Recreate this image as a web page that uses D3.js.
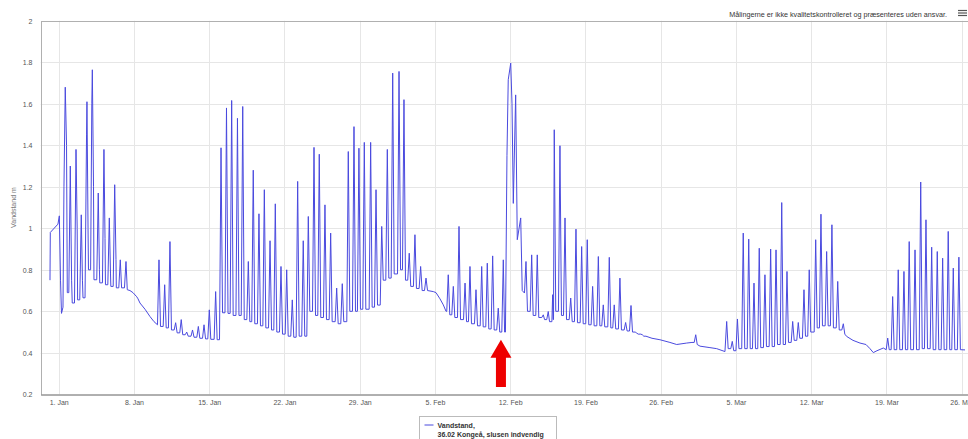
<!DOCTYPE html>
<html><head><meta charset="utf-8">
<script src="https://cdn.jsdelivr.net/npm/d3@7"></script>
<style>
html,body{margin:0;padding:0;background:#fff;overflow:hidden;}
svg{display:block;font-family:"Liberation Sans",Arial,sans-serif;}
</style></head>
<body><svg id="chart" width="968" height="439"></svg>
<script>
// ---- data: [days since 1 Jan 00:00, water level (m)] ----
const readings = [
[-0.81,0.75],[-0.78,0.98],[-0.07,1.02],[0.06,1.06],[0.17,0.75],[0.26,0.59],[0.40,0.62],[0.49,1.2],[0.61,1.68],[0.73,1.40],[0.80,0.69],[0.94,0.69],
[1.08,1.30],[1.20,0.75],[1.26,0.64],[1.47,0.64],[1.61,1.38],[1.72,1.0],[1.76,0.655],[1.96,0.655],[2.10,1.065],[2.21,0.75],[2.26,0.665],[2.45,0.665],
[2.59,1.45],[2.63,1.61],[2.73,1.0],[2.77,0.80],[2.97,0.80],[3.08,1.6],[3.13,1.764],[3.24,1.2],[3.28,0.752],[3.54,0.752],[3.68,1.17],[3.79,0.8],
[3.82,0.737],[4.07,0.737],[4.21,1.38],[4.31,0.95],[4.35,0.728],[4.57,0.728],[4.71,1.05],[4.82,0.78],[4.85,0.72],[5.07,0.72],[5.21,1.21],[5.33,0.85],
[5.36,0.713],[5.59,0.713],[5.73,0.848],[5.85,0.713],[6.12,0.713],[6.26,0.84],[6.38,0.704],[6.63,0.70],[6.91,0.69],[7.26,0.67],[7.38,0.66],[7.56,0.64],
[8.03,0.61],[8.49,0.575],[8.87,0.55],[9.19,0.535],[9.33,0.848],[9.47,0.527],[9.72,0.527],[9.86,0.728],[10.00,0.52],[10.21,0.52],[10.35,0.936],[10.49,0.51],
[10.74,0.51],[10.88,0.545],[11.02,0.496],[11.26,0.496],[11.40,0.56],[11.54,0.487],[11.77,0.487],[11.91,0.50],[12.05,0.48],[12.31,0.48],[12.45,0.51],[12.59,0.475],
[12.85,0.475],[12.99,0.527],[13.13,0.47],[13.38,0.47],[13.52,0.535],[13.66,0.467],[13.87,0.467],[14.01,0.607],[14.15,0.465],[14.46,0.465],[14.60,0.695],[14.74,0.463],
[14.96,0.463],[15.10,1.388],[15.24,0.593],[15.47,0.593],[15.61,1.58],[15.75,0.59],[15.95,0.59],[16.09,1.616],[16.23,0.58],[16.49,0.58],[16.63,1.53],[16.77,0.58],
[16.98,0.58],[17.12,1.587],[17.26,0.56],[17.50,0.56],[17.64,0.84],[17.78,0.55],[17.96,0.55],[18.10,1.28],[18.24,0.54],[18.49,0.54],[18.63,1.07],[18.77,0.53],
[18.99,0.53],[19.13,1.186],[19.27,0.52],[19.52,0.52],[19.66,0.94],[19.80,0.51],[20.01,0.51],[20.15,1.118],[20.29,0.50],[20.54,0.50],[20.68,0.816],[20.82,0.49],
[21.07,0.49],[21.21,0.80],[21.35,0.48],[21.59,0.48],[21.73,0.655],[21.87,0.475],[22.09,0.475],[22.23,1.226],[22.37,0.48],[22.61,0.48],[22.75,0.94],[22.89,0.48],
[23.08,0.48],[23.22,1.057],[23.36,0.60],[23.61,0.60],[23.75,1.39],[23.89,0.58],[24.10,0.58],[24.24,1.357],[24.38,0.57],[24.63,0.57],[24.77,1.113],[24.91,0.56],
[25.16,0.56],[25.30,0.977],[25.44,0.55],[25.72,0.55],[25.86,0.712],[26.00,0.54],[26.24,0.54],[26.38,0.733],[26.52,0.55],[26.80,0.55],[26.94,1.37],[27.08,0.60],
[27.33,0.60],[27.47,1.49],[27.61,0.60],[27.79,0.60],[27.93,1.386],[28.07,0.61],[28.29,0.61],[28.43,1.414],[28.57,0.61],[28.88,0.61],[29.02,1.414],[29.16,0.62],
[29.38,0.62],[29.52,1.186],[29.66,0.63],[29.91,0.63],[30.05,1.009],[30.19,0.75],[30.43,0.75],[30.57,1.38],[30.71,0.76],[30.93,0.76],[31.07,1.748],[31.21,0.78],
[31.52,0.78],[31.66,1.756],[31.80,0.80],[31.98,0.80],[32.12,1.62],[32.26,0.75],[32.47,0.75],[32.61,0.88],[32.75,0.72],[33.00,0.72],[33.14,0.969],[33.28,0.71],
[33.53,0.71],[33.67,0.816],[33.81,0.70],[34.03,0.70],[34.17,0.76],[34.31,0.70],[34.85,0.695],[35.10,0.69],[35.47,0.66],[35.78,0.631],[36.03,0.60],[36.10,0.60],
[36.24,0.776],[36.38,0.583],[36.57,0.583],[36.71,0.72],[36.85,0.57],[37.10,0.57],[37.24,1.009],[37.38,0.56],[37.66,0.56],[37.80,0.736],[37.94,0.55],[38.12,0.55],
[38.26,0.816],[38.40,0.54],[38.68,0.54],[38.82,0.704],[38.96,0.53],[39.21,0.53],[39.35,0.816],[39.49,0.525],[39.73,0.525],[39.87,0.832],[40.01,0.515],[40.23,0.515],
[40.37,0.867],[40.51,0.51],[40.75,0.51],[40.89,0.615],[41.03,0.50],[41.22,0.50],[41.36,0.848],[41.48,0.50],[41.56,0.50],[41.70,1.35],[41.82,1.716],[42.05,1.796],
[42.17,1.6],[42.29,1.12],[42.51,1.643],[42.66,0.945],[42.98,1.05],[43.12,0.70],[43.33,0.688],[43.47,0.84],[43.61,0.60],[43.86,0.60],[44.00,0.872],[44.14,0.58],
[44.38,0.58],[44.52,0.872],[44.66,0.57],[44.94,0.57],[45.08,0.583],[45.20,0.56],[45.40,0.56],[45.54,0.599],[45.66,0.55],[45.88,0.55],[45.95,0.68],[46.00,0.56],
[46.03,0.56],[46.10,1.475],[46.24,0.60],[46.49,0.60],[46.63,1.398],[46.77,0.58],[46.96,0.58],[47.10,1.05],[47.24,0.56],[47.49,0.56],[47.63,0.664],[47.77,0.55],
[47.98,0.55],[48.12,0.996],[48.26,0.545],[48.51,0.545],[48.65,0.912],[48.79,0.54],[49.03,0.54],[49.17,0.945],[49.31,0.535],[49.53,0.535],[49.67,0.72],[49.81,0.53],
[50.06,0.53],[50.20,0.864],[50.34,0.53],[50.52,0.53],[50.66,0.631],[50.80,0.525],[51.08,0.525],[51.22,0.86],[51.36,0.52],[51.54,0.52],[51.68,0.631],[51.82,0.515],
[52.07,0.515],[52.21,0.76],[52.35,0.51],[52.60,0.51],[52.74,0.546],[52.88,0.505],[53.10,0.505],[53.24,0.628],[53.38,0.50],[53.63,0.50],[53.77,0.495],[53.91,0.49],
[54.15,0.49],[54.29,0.487],[54.43,0.48],[54.63,0.48],[55.19,0.47],[55.93,0.463],[56.86,0.45],[57.49,0.44],[58.42,0.447],[58.91,0.45],[59.12,0.45],[59.26,0.487],
[59.40,0.44],[59.66,0.432],[60.58,0.425],[61.21,0.42],[61.98,0.406],[62.14,0.551],[62.28,0.42],[62.52,0.42],[62.66,0.455],[62.80,0.41],[63.00,0.41],[63.14,0.563],
[63.28,0.42],[63.54,0.42],[63.68,0.977],[63.82,0.42],[64.05,0.42],[64.19,0.948],[64.33,0.42],[64.54,0.42],[64.68,0.736],[64.82,0.42],[65.03,0.42],[65.17,0.904],
[65.31,0.425],[65.56,0.425],[65.70,0.776],[65.84,0.43],[66.09,0.43],[66.23,0.90],[66.37,0.43],[66.59,0.43],[66.73,0.896],[66.87,0.44],[67.12,0.44],[67.26,1.124],
[67.40,0.44],[67.61,0.44],[67.75,0.792],[67.89,0.45],[68.14,0.45],[68.28,0.551],[68.42,0.46],[68.66,0.46],[68.80,0.546],[68.94,0.47],[69.19,0.47],[69.33,0.704],
[69.47,0.48],[69.68,0.48],[69.82,0.80],[69.96,0.50],[70.28,0.50],[70.42,0.945],[70.56,0.52],[70.77,0.52],[70.91,1.068],[71.05,0.53],[71.30,0.53],[71.44,0.888],
[71.58,0.53],[71.79,0.53],[71.93,1.017],[72.07,0.52],[72.33,0.52],[72.47,0.744],[72.61,0.51],[72.85,0.51],[72.99,0.54],[73.13,0.49],[73.30,0.479],[73.89,0.46],
[74.54,0.447],[75.10,0.44],[75.47,0.42],[75.78,0.401],[76.12,0.41],[76.71,0.423],[76.98,0.415],[77.12,0.471],[77.26,0.415],[77.44,0.415],[77.58,0.671],[77.72,0.415],
[77.96,0.415],[78.10,0.80],[78.24,0.415],[78.49,0.415],[78.63,0.792],[78.77,0.415],[78.98,0.415],[79.12,0.936],[79.26,0.415],[79.52,0.415],[79.66,0.896],[79.80,0.415],
[80.05,0.415],[80.19,1.223],[80.33,0.42],[80.54,0.42],[80.68,1.041],[80.82,0.42],[81.07,0.42],[81.21,0.909],[81.35,0.415],[81.59,0.415],[81.73,0.888],[81.87,0.415],
[82.09,0.415],[82.23,0.856],[82.37,0.415],[82.61,0.415],[82.75,0.985],[82.89,0.415],[83.08,0.415],[83.22,0.808],[83.36,0.415],[83.60,0.415],[83.74,0.861],[83.88,0.415],
[84.31,0.414]
];

// axis ticks
const xTickDays = [0,7,14,21,28,35,42,49,56,63,70,77,84];
const xTickLabels = ["1. Jan","8. Jan","15. Jan","22. Jan","29. Jan","5. Feb","12. Feb","19. Feb","26. Feb","5. Mar","12. Mar","19. Mar","26. Mar"];
const yTicks = [0.2,0.4,0.6,0.8,1,1.2,1.4,1.6,1.8,2];
const yTickLabels = ["0.2","0.4","0.6","0.8","1","1.2","1.4","1.6","1.8","2"];

const seriesName = "Vandstand,";
const stationName = "36.02 Kongeå, slusen indvendig";
const yTitle = "Vandstand m";
const creditText = "Målingerne er ikke kvalitetskontrolleret og præsenteres uden ansvar.";
// annotation arrow (day, tip level, base level)
const arrowDay = 41.14, arrowTip = 0.463, arrowBase = 0.235;

// ---- layout ----
const base = new Date(2023, 0, 1).getTime();
const toDate = d => new Date(base + d * 864e5);
const plot = {left: 40.7, right: 975, top: 20.8, bottom: 394.3};
const x = d3.scaleTime().domain([toDate(-1.674), toDate(85.24)]).range([plot.left, plot.right]);
const y = d3.scaleLinear().domain([0.2, 2]).range([plot.bottom, plot.top]);

const svg = d3.select("#chart");
svg.append("rect").attr("width", 968).attr("height", 439).attr("fill", "#fff");

// grid
const g = svg.append("g");
g.selectAll("line.hg").data(yTicks.slice(1, -1)).join("line")
  .attr("x1", plot.left).attr("x2", plot.right)
  .attr("y1", d => Math.round(y(d)) + 0.5).attr("y2", d => Math.round(y(d)) + 0.5)
  .attr("stroke", "#e6e6e6").attr("stroke-width", 1);
g.selectAll("line.vg").data(xTickDays).join("line")
  .attr("y1", plot.top).attr("y2", plot.bottom)
  .attr("x1", d => Math.round(x(toDate(d))) + 0.5).attr("x2", d => Math.round(x(toDate(d))) + 0.5)
  .attr("stroke", "#e6e6e6").attr("stroke-width", 1);

// plot border
svg.append("rect").attr("x", Math.round(plot.left) + 0.5).attr("y", Math.round(plot.top) + 0.5)
  .attr("width", plot.right - plot.left).attr("height", plot.bottom - plot.top)
  .attr("fill", "none").attr("stroke", "#b0b0b0").attr("stroke-width", 1);

// axes
const xAxis = d3.axisBottom(x).tickValues(xTickDays.map(toDate))
  .tickFormat((d, i) => xTickLabels[i]).tickSize(0).tickPadding(6);
const xa = svg.append("g").attr("transform", `translate(0,${Math.round(plot.bottom) + 0.5})`).call(xAxis);
xa.select(".domain").attr("stroke", "#888");
xa.selectAll("text").attr("fill", "#555").attr("font-size", "7px");

const yAxis = d3.axisLeft(y).tickValues(yTicks).tickFormat((d, i) => yTickLabels[i]).tickSize(0).tickPadding(9);
const ya = svg.append("g").attr("transform", `translate(${Math.round(plot.left) + 0.5},0)`).call(yAxis);
ya.select(".domain").remove();
ya.selectAll("text").attr("fill", "#555").attr("font-size", "7px");

svg.append("text").attr("transform", `translate(16,${(plot.top + plot.bottom) / 2}) rotate(-90)`)
  .attr("text-anchor", "middle").attr("font-size", "7px").attr("fill", "#777").text(yTitle);

// series line
svg.append("defs").append("clipPath").attr("id", "clip").append("rect")
  .attr("x", plot.left).attr("y", plot.top).attr("width", plot.right - plot.left).attr("height", plot.bottom - plot.top);
const pts = readings.map(r => [toDate(r[0]), r[1]]);
svg.append("path").datum(pts).attr("clip-path", "url(#clip)")
  .attr("d", d3.line().x(p => x(p[0])).y(p => y(p[1])))
  .attr("fill", "none").attr("stroke", "#4a4ade").attr("stroke-width", 1).attr("stroke-linejoin", "round");

// red arrow annotation
const ax = x(toDate(arrowDay)), at = y(arrowTip), ab = y(arrowBase);
const headH = 18, headW = 10.5, shaftW = 5;
svg.append("path").attr("fill", "#ee0000")
  .attr("d", `M${ax},${at} L${ax + headW},${at + headH} L${ax + shaftW},${at + headH} L${ax + shaftW},${ab} L${ax - shaftW},${ab} L${ax - shaftW},${at + headH} L${ax - headW},${at + headH} Z`);

// credit text
svg.append("text").attr("x", 947).attr("y", 16.5).attr("text-anchor", "end")
  .attr("font-size", "7.2px").attr("fill", "#333").text(creditText);
// menu icon
[0, 1, 2].forEach(i => svg.append("line").attr("x1", 958).attr("x2", 967)
  .attr("y1", 10.5 + i * 2.5).attr("y2", 10.5 + i * 2.5).attr("stroke", "#555").attr("stroke-width", 1.2));

// legend
const lg = svg.append("g").attr("transform", "translate(419.5,416.5)");
lg.append("rect").attr("width", 137).attr("height", 40).attr("fill", "#fff").attr("stroke", "#bbb");
lg.append("line").attr("x1", 5).attr("x2", 14).attr("y1", 8.5).attr("y2", 8.5).attr("stroke", "#4a4ade").attr("stroke-width", 1);
lg.append("text").attr("x", 18).attr("y", 11).attr("font-size", "7px").attr("font-weight", "bold").attr("fill", "#333").text(seriesName);
lg.append("text").attr("x", 18).attr("y", 20).attr("font-size", "7px").attr("font-weight", "bold").attr("fill", "#333").text(stationName);
</script></body></html>
